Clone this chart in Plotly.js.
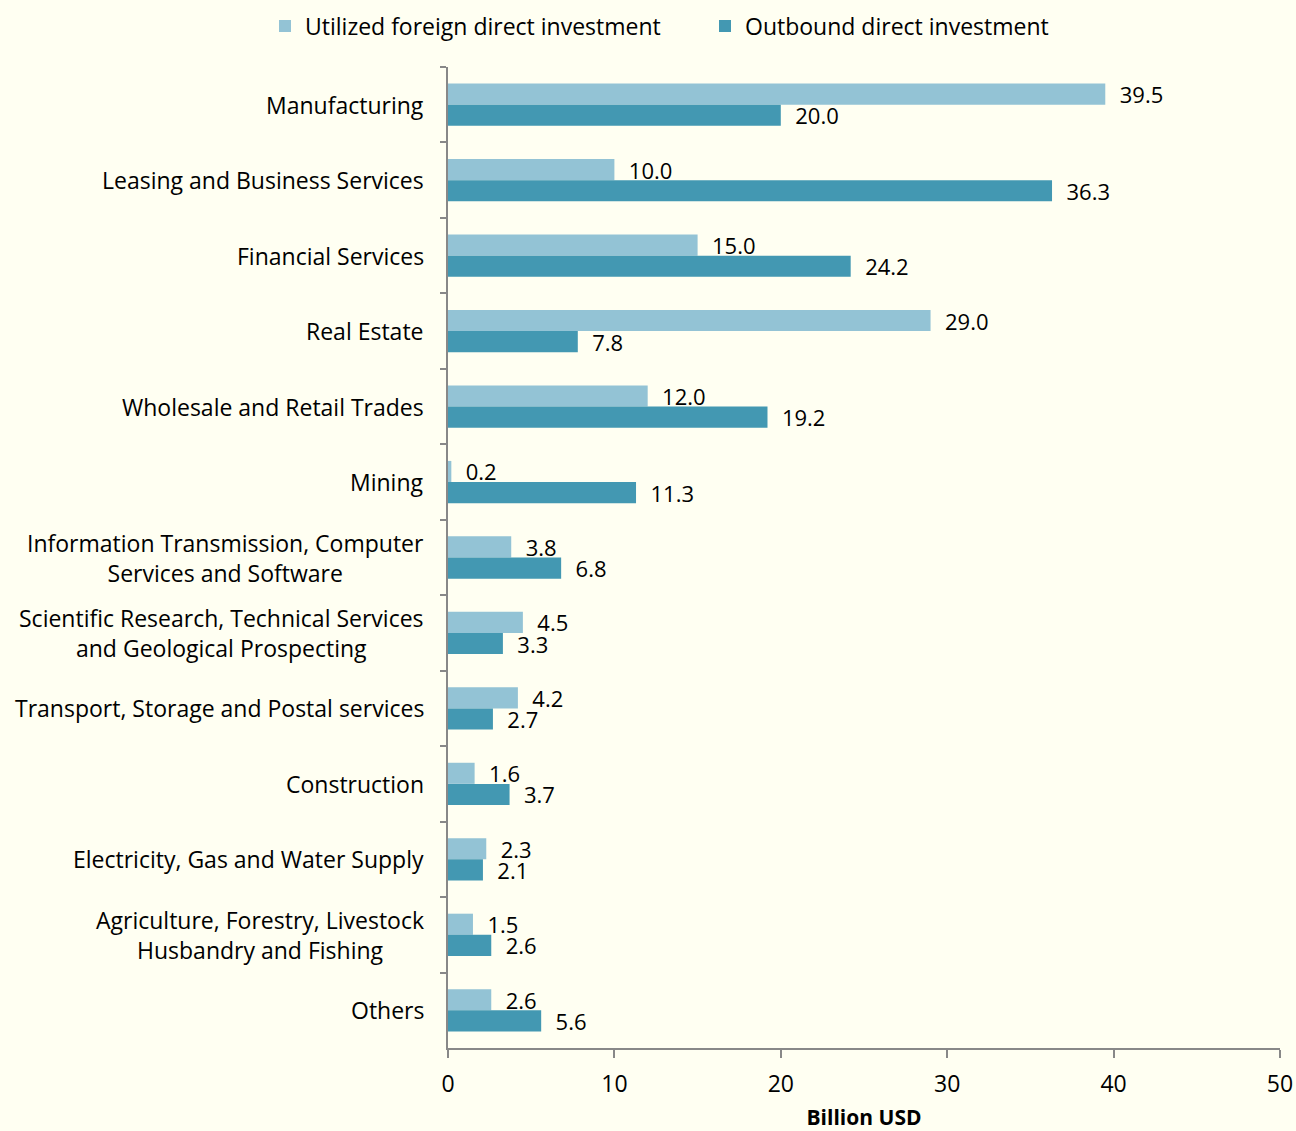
<!DOCTYPE html>
<html>
<head>
<meta charset="utf-8">
<script src="https://cdn.plot.ly/plotly-3.0.1.min.js"></script>
<style>html,body{margin:0;padding:0;background:#FFFFF2;}#chart{width:1296px;height:1131px;}</style>
</head>
<body>
<div id="chart"></div>
<script>
const categories = [
  "Manufacturing",
  "Leasing and Business Services",
  "Financial Services",
  "Real Estate",
  "Wholesale and Retail Trades",
  "Mining",
  "Information Transmission, Computer<br>Services and Software",
  "Scientific Research, Technical Services<br>and Geological Prospecting",
  "Transport, Storage and Postal services",
  "Construction",
  "Electricity, Gas and Water Supply",
  "Agriculture, Forestry, Livestock<br>Husbandry and Fishing",
  "Others"
];
const utilizedFDI = [39.5, 10.0, 15.0, 29.0, 12.0, 0.2, 3.8, 4.5, 4.2, 1.6, 2.3, 1.5, 2.6];
const outboundDI = [20.0, 36.3, 24.2, 7.8, 19.2, 11.3, 6.8, 3.3, 2.7, 3.7, 2.1, 2.6, 5.6];
const seriesNames = ["Utilized foreign direct investment", "Outbound direct investment"];
const xTicks = [0, 10, 20, 30, 40, 50];

const FONT = "'Open Sans', 'Noto Sans', sans-serif";
const lightColor = "#93C3D5";
const darkColor = "#4398B2";

function barTrace(name, values, color, legendId) {
  return {
    type: "bar",
    orientation: "h",
    name: name,
    legend: legendId,
    y: categories,
    x: values,
    marker: {color: color, line: {width: 0}},
    text: values.map(v => v.toFixed(1)),
    texttemplate: "\u00a0\u00a0%{text}",
    textposition: "outside",
    constraintext: "none",
    cliponaxis: false,
    textfont: {family: FONT, size: 22, color: "#000"},
    hoverinfo: "x+y"
  };
}

const data = [
  barTrace(seriesNames[0], utilizedFDI, lightColor, "legend"),
  barTrace(seriesNames[1], outboundDI, darkColor, "legend2")
];

const annotations = categories.map(c => ({
  xref: "paper", yref: "y", x: 0, y: c,
  text: c, showarrow: false, xanchor: "right", yanchor: "middle",
  xshift: -22, align: "center",
  font: {family: FONT, size: 23, color: "#000"}
}));

function legendBox(xPix) {
  return {
    orientation: "h", xref: "container", yref: "container",
    x: xPix / 1296, xanchor: "left", y: 0.977, yanchor: "middle",
    font: {family: FONT, size: 23, color: "#000"},
    bgcolor: "rgba(0,0,0,0)", borderwidth: 0
  };
}

const layout = {
  width: 1296, height: 1131,
  paper_bgcolor: "#FFFFF2", plot_bgcolor: "#FFFFF2",
  font: {family: FONT, size: 23, color: "#000"},
  margin: {l: 448, r: 16, t: 67, b: 83, pad: 0},
  barmode: "group",
  bargap: 0.44,
  bargroupgap: 0,
  showlegend: true,
  legend: legendBox(265),
  legend2: legendBox(705),
  xaxis: {
    range: [0, 50], tickvals: xTicks, ticktext: xTicks.map(String),
    showgrid: false, zeroline: false,
    showline: true, linecolor: "#888", linewidth: 2,
    ticks: "outside", ticklen: 8, tickwidth: 2, tickcolor: "#888",
    tickfont: {family: FONT, size: 23, color: "#000"},
    ticklabelstandoff: 6,
    title: {text: "<b>Billion USD</b>", font: {family: FONT, size: 21, color: "#000"}, standoff: 19}
  },
  yaxis: {
    type: "category", autorange: "reversed",
    showgrid: false, zeroline: false,
    showline: true, linecolor: "#888", linewidth: 2,
    ticks: "outside", tickson: "boundaries", ticklen: 6, tickwidth: 2, tickcolor: "#888",
    showticklabels: false
  },
  annotations: annotations
};

Plotly.newPlot("chart", data, layout, {displayModeBar: false, staticPlot: true});
</script>
</body>
</html>
